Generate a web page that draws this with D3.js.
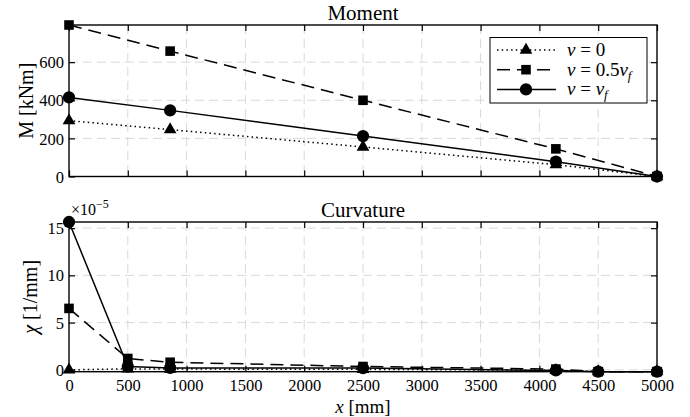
<!DOCTYPE html>
<html>
<head>
<meta charset="utf-8">
<script src="https://cdn.jsdelivr.net/npm/d3@7"></script>
<style>
  body { margin: 0; background: #fff; }
  svg { display: block; }
  text { font-family: "Liberation Serif", "Times New Roman", serif; fill: #000; }
</style>
</head>
<body>
<svg id="chart" width="690" height="417"></svg>
<script>
// --- data ---
const xTicks = [0, 500, 1000, 1500, 2000, 2500, 3000, 3500, 4000, 4500, 5000];

// Moment [kNm]
const momentX = [0, 860, 2500, 4140, 5000];
const momentV0 = [293, 246, 155, 62, 0];
const momentHalf = [795, 658, 400, 145, 0];
const momentFull = [415, 347, 212, 78, 0];
const momentTicks = [0, 200, 400, 600];

// Curvature [1/mm] x 1e-5
const curvX = [0, 500, 860, 2500, 4140, 4500, 5000];
const curvV0 = [0, 0.1, 0.08, 0.05, -0.05, -0.2, -0.2];
const curvHalf = [6.5, 1.2, 0.8, 0.35, 0.08, -0.2, -0.2];
const curvFull = [15.65, 0.35, 0.2, 0.18, -0.07, -0.2, -0.2];
const curvTicks = [0, 5, 10, 15];

const seriesStyle = [
  {name: "v0",   dash: "1.5,3.2", symbol: d3.symbolTriangle, size: 70},
  {name: "half", dash: "13,7",    symbol: d3.symbolSquare,   size: 92},
  {name: "full", dash: null,      symbol: d3.symbolCircle,   size: 118}
];

const svg = d3.select("#chart");
const left = 69, right = 657;

const x = d3.scaleLinear().domain([0, 5000]).range([left, right]);

function drawPanel(cfg) {
  const allY = cfg.series.flat();
  const y = d3.scaleLinear().domain(d3.extent(allY)).range([cfg.bottom, cfg.top]);
  const g = svg.append("g");

  // grid
  const grid = g.append("g").attr("stroke", "#d9d9d9").attr("stroke-width", 1)
    .attr("stroke-dasharray", "9,5");
  grid.selectAll(".gx").data(xTicks.slice(1, -1)).join("line")
    .attr("x1", d => x(d)).attr("x2", d => x(d))
    .attr("y1", cfg.top).attr("y2", cfg.bottom);
  grid.selectAll(".gy").data(cfg.ticks.filter(t => y(t) > cfg.top + 1 && y(t) < cfg.bottom - 1)).join("line")
    .attr("x1", left).attr("x2", right)
    .attr("y1", d => y(d)).attr("y2", d => y(d));

  // axes with inward ticks
  const xb = g.append("g").attr("transform", `translate(0,${cfg.bottom})`)
    .call(d3.axisBottom(x).tickValues(xTicks).tickSize(-6).tickPadding(8)
      .tickFormat(cfg.xLabels ? d3.format("d") : ""));
  const xt = g.append("g").attr("transform", `translate(0,${cfg.top})`)
    .call(d3.axisTop(x).tickValues(xTicks).tickSize(-6).tickFormat(""));
  const yl = g.append("g").attr("transform", `translate(${left},0)`)
    .call(d3.axisLeft(y).tickValues(cfg.ticks).tickSize(-6).tickPadding(5).tickFormat(d3.format("d")));
  const yr = g.append("g").attr("transform", `translate(${right},0)`)
    .call(d3.axisRight(y).tickValues(cfg.ticks).tickSize(-6).tickFormat(""));
  [xb, xt, yl, yr].forEach(a => {
    a.attr("font-family", null);
    a.select(".domain").remove();
    a.selectAll(".tick line").attr("stroke", "#000").attr("stroke-width", 1.2);
    a.selectAll(".tick text").style("font-size", "16.5px")
      .style("font-family", '"Liberation Serif", serif').attr("fill", "#000");
  });
  yl.selectAll(".tick text").attr("dy", "0.34em");

  // box
  g.append("rect").attr("x", left).attr("y", cfg.top)
    .attr("width", right - left).attr("height", cfg.bottom - cfg.top)
    .attr("fill", "none").attr("stroke", "#000").attr("stroke-width", 1.4);

  // lines + markers
  cfg.series.forEach((vals, i) => {
    const st = seriesStyle[i];
    const pts = vals.map((v, j) => [cfg.xs[j], v]);
    g.append("path").datum(pts)
      .attr("d", d3.line().x(d => x(d[0])).y(d => y(d[1])))
      .attr("fill", "none").attr("stroke", "#000").attr("stroke-width", 1.5)
      .attr("stroke-dasharray", st.dash);
    g.selectAll(".m" + i).data(pts).join("path")
      .attr("transform", d => `translate(${x(d[0])},${y(d[1])})`)
      .attr("d", d3.symbol(st.symbol, st.size))
      .attr("fill", "#000");
  });

  // title
  svg.append("text").attr("x", (left + right) / 2).attr("y", cfg.top - 5)
    .attr("text-anchor", "middle").style("font-size", "21px").text(cfg.title);

  // y label
  const yl2 = svg.append("text")
    .attr("transform", `translate(${cfg.yLabelX},${(cfg.top + cfg.bottom) / 2}) rotate(-90)`)
    .attr("text-anchor", "middle").style("font-size", "20px");
  cfg.yLabel(yl2);
  return y;
}

drawPanel({
  top: 25, bottom: 176.5, title: "Moment", xs: momentX,
  series: [momentV0, momentHalf, momentFull], ticks: momentTicks,
  xLabels: false, yLabelX: 33,
  yLabel: t => t.text("M [kNm]")
});

drawPanel({
  top: 222, bottom: 371.7, title: "Curvature", xs: curvX,
  series: [curvV0, curvHalf, curvFull], ticks: curvTicks,
  xLabels: true, yLabelX: 37,
  yLabel: t => {
    t.append("tspan").style("font-style", "italic").text("χ");
    t.append("tspan").text(" [1/mm]");
  }
});

// exponent marker
const ex = svg.append("text").attr("x", 71).attr("y", 215).style("font-size", "16px");
ex.append("tspan").text("×10");
ex.append("tspan").attr("dy", -7).style("font-size", "12px").text("−5");

// x label
const xl = svg.append("text").attr("x", (left + right) / 2).attr("y", 413)
  .attr("text-anchor", "middle").style("font-size", "19px");
xl.append("tspan").style("font-style", "italic").text("x");
xl.append("tspan").text(" [mm]");

// legend
const legend = svg.append("g");
legend.append("rect").attr("x", 490).attr("y", 37.5).attr("width", 157).attr("height", 65.5)
  .attr("fill", "#fff").attr("stroke", "#000").attr("stroke-width", 1);
const legendRows = [
  [{t: "v", i: true}, {t: " = 0"}],
  [{t: "v", i: true}, {t: " = 0.5"}, {t: "v", i: true}, {t: "f", i: true, sub: true}],
  [{t: "v", i: true}, {t: " = "}, {t: "v", i: true}, {t: "f", i: true, sub: true}]
];
legendRows.forEach((parts, i) => {
  const cy = 50 + i * 19.7;
  const st = seriesStyle[i];
  legend.append("line").attr("x1", 497).attr("x2", 556).attr("y1", cy).attr("y2", cy)
    .attr("stroke", "#000").attr("stroke-width", 1.5).attr("stroke-dasharray", st.dash);
  legend.append("path").attr("transform", `translate(526,${cy})`)
    .attr("d", d3.symbol(st.symbol, st.size)).attr("fill", "#000");
  const t = legend.append("text").attr("x", 567).attr("y", cy + 6).style("font-size", "19px")
    .attr("xml:space", "preserve");
  parts.forEach(p => {
    const s = t.append("tspan").text(p.t);
    if (p.i) s.style("font-style", "italic");
    if (p.sub) s.attr("dy", 4).style("font-size", "13px");
  });
});
</script>
</body>
</html>
